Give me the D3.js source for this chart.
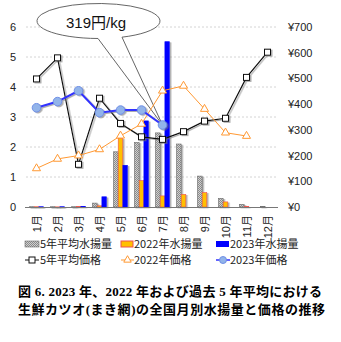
<!DOCTYPE html>
<html><head><meta charset="utf-8">
<script src="https://cdn.jsdelivr.net/npm/d3@7"></script>
<style>
html,body{margin:0;padding:0;background:#fff;}
svg{display:block;}
</style></head>
<body>
<svg id="c" width="341" height="342"></svg>
<script>
const months = ["1月","2月","3月","4月","5月","6月","7月","8月","9月","10月","11月","12月"];
const qtyAvg5 = [0.01,0.01,0.01,0.13,1.84,2.15,2.47,2.1,1.03,0.29,0.09,0.02];
const qty2022 = [0.01,0.005,0.02,0.04,2.29,0.88,0.37,0.42,0.48,0.17,0.02,0];
const qty2023 = [0.01,0.01,0.02,0.34,1.39,2.87,5.51,null,null,null,null,null];
const priceAvg5 = [498,580,166,423,325,273,263,293,334,345,504,602];
const price2022 = [150,187,200,224,277,323,452,471,381,289,276,null];
const price2023 = [386,410,452,367,377,377,319,null,null,null,null,null];
const leftTicks = [0,1,2,3,4,5,6];
const rightTicks = [0,100,200,300,400,500,600,700];
const legendLabels = ["5年平均水揚量","2022年水揚量","2023年水揚量","5年平均価格","2022年価格","2023年価格"];
const calloutText = "319円/kg";
const titleLines = ["図 6. 2023 年、2022 年および過去 5 年平均における","生鮮カツオ(まき網)の全国月別水揚量と価格の推移"];

const svg = d3.select("#c");
const font = "'Liberation Sans', Arial, 'Noto Sans CJK JP', sans-serif";
const jfont = "'Noto Sans CJK JP', sans-serif";

const x = d3.scaleBand().domain(months).range([26,278]).padding(0);
const yL = d3.scaleLinear().domain([0,6]).range([207,27]);
const yR = d3.scaleLinear().domain([0,700]).range([207,27]);

const defs = svg.append("defs");
const pat = defs.append("pattern").attr("id","chk").attr("width",2).attr("height",2).attr("patternUnits","userSpaceOnUse");
pat.append("rect").attr("width",2).attr("height",2).attr("fill","#d0d0d0");
pat.append("rect").attr("width",1).attr("height",1).attr("fill","#8a8a8a");
pat.append("rect").attr("x",1).attr("y",1).attr("width",1).attr("height",1).attr("fill","#8a8a8a");
const f = defs.append("filter").attr("id","sh").attr("x","-50%").attr("y","-50%").attr("width","200%").attr("height","200%");
f.append("feDropShadow").attr("dx",1.5).attr("dy",1).attr("stdDeviation",0.6).attr("flood-color","#777").attr("flood-opacity",0.6);

// grid
svg.append("g").selectAll("line").data(leftTicks.filter(d=>d>0)).join("line")
  .attr("x1",26).attr("x2",278).attr("y1",d=>yL(d)).attr("y2",d=>yL(d))
  .attr("stroke","#d4d4d4").attr("stroke-dasharray","2,2").attr("stroke-width",1);

// left axis labels
svg.append("g").selectAll("text").data(leftTicks).join("text")
  .attr("x",16).attr("y",d=>yL(d)+4).attr("text-anchor","end")
  .attr("font-family",font).attr("font-size",11).attr("fill","#222").text(d=>d);
// right axis labels
svg.append("g").selectAll("text").data(rightTicks).join("text")
  .attr("x",288).attr("y",d=>yR(d)+4).attr("text-anchor","start")
  .attr("font-family",font).attr("font-size",11).attr("fill","#222").text(d=>"¥"+d);

// callout ellipse
const cx=98.5, cy=21, rx=61.5, ry=17.5;
svg.append("ellipse").attr("cx",cx).attr("cy",cy).attr("rx",rx).attr("ry",ry).attr("fill","#fff");

// bars
const bw = 4.6;
const barG = svg.append("g");
const series = [
  {vals:qtyAvg5, off:-7, fill:"url(#chk)", stroke:"#6a6a6a"},
  {vals:qty2022, off:-2.3, fill:"#FFC000", stroke:"#F05050"},
  {vals:qty2023, off:2.4, fill:"#0000FF", stroke:"#0000FF"}
];
series.forEach(s=>{
  barG.append("g").attr("filter","url(#sh)").selectAll("rect")
    .data(months.map((m,i)=>({m,v:s.vals[i]})).filter(d=>d.v!=null && d.v>0))
    .join("rect")
    .attr("x",d=>x(d.m)+x.bandwidth()/2+s.off)
    .attr("y",d=>yL(d.v))
    .attr("width",bw)
    .attr("height",d=>Math.max(0.5,yL(0)-yL(d.v)))
    .attr("fill",s.fill).attr("stroke",s.stroke).attr("stroke-width",0.6);
});

// baseline
svg.append("line").attr("x1",25).attr("x2",278).attr("y1",207.5).attr("y2",207.5).attr("stroke","#777").attr("stroke-width",1);

// month labels
svg.append("g").selectAll("text").data(months).join("text")
  .attr("transform",d=>`translate(${x(d)+x.bandwidth()/2+4},215) rotate(-90)`)
  .attr("text-anchor","end").attr("font-family",font).attr("font-size",11).attr("fill","#222").text(d=>d);

// lines
const cxm = d=>x(d.m)+x.bandwidth()/2;
function lineSeries(vals){ return months.map((m,i)=>({m,v:vals[i]})).filter(d=>d.v!=null); }
const lineGen = d3.line().x(cxm).y(d=>yR(d.v));

// callout outline and tail
const tip = {x: x("7月")+x.bandwidth()/2, y: yR(price2023[6])};
const ax = 98, bx = 122;
const ay = cy + ry*Math.sqrt(1-((ax-cx)/rx)**2);
const by = cy + ry*Math.sqrt(1-((bx-cx)/rx)**2);
svg.append("path")
  .attr("d",`M${bx},${by} A${rx},${ry} 0 1 0 ${ax},${ay} L${tip.x},${tip.y} Z`)
  .attr("fill","none").attr("stroke","#555").attr("stroke-width",0.9);
svg.append("text").attr("x",96).attr("y",28).attr("text-anchor","middle")
  .attr("font-family",font).attr("font-size",15).attr("fill","#111").text(calloutText);

// 5yr avg price
const gA = svg.append("g").attr("filter","url(#sh)");
gA.append("path").datum(lineSeries(priceAvg5)).attr("d",lineGen).attr("fill","none").attr("stroke","#111").attr("stroke-width",1.2);
gA.selectAll("rect").data(lineSeries(priceAvg5)).join("rect")
  .attr("x",d=>cxm(d)-3).attr("y",d=>yR(d.v)-3).attr("width",6).attr("height",6)
  .attr("fill","#fff").attr("stroke","#111").attr("stroke-width",1);

// 2022 price
const g22 = svg.append("g");
g22.append("path").datum(lineSeries(price2022)).attr("d",lineGen).attr("fill","none").attr("stroke","#FF9933").attr("stroke-width",1);
g22.selectAll("path.m").data(lineSeries(price2022)).join("path").attr("class","m")
  .attr("d",d3.symbol(d3.symbolTriangle,28)())
  .attr("transform",d=>`translate(${cxm(d)},${yR(d.v)})`)
  .attr("fill","#fff").attr("stroke","#FF9933").attr("stroke-width",1);

// 2023 price
const g23 = svg.append("g").attr("filter","url(#sh)");
g23.append("path").datum(lineSeries(price2023)).attr("d",lineGen).attr("fill","none").attr("stroke","#3030FF").attr("stroke-width",2);
g23.selectAll("circle").data(lineSeries(price2023)).join("circle")
  .attr("cx",cxm).attr("cy",d=>yR(d.v)).attr("r",4.3)
  .attr("fill","#92B4EA").attr("stroke","#6F8FE6").attr("stroke-width",1);

// legend
const lg = svg.append("g");
const colX = [25,121,216];
const rowY = [244,260];
lg.append("rect").attr("x",colX[0]).attr("y",rowY[0]-3).attr("width",14).attr("height",6).attr("fill","url(#chk)").attr("stroke","#6a6a6a").attr("stroke-width",0.6);
lg.append("rect").attr("x",colX[1]).attr("y",rowY[0]-3).attr("width",12).attr("height",6).attr("fill","#FFC000").attr("stroke","#F05050").attr("stroke-width",1);
lg.append("rect").attr("x",colX[2]).attr("y",rowY[0]-3).attr("width",13).attr("height",6).attr("fill","#0000FF");
lg.append("line").attr("x1",colX[0]).attr("x2",colX[0]+14).attr("y1",rowY[1]).attr("y2",rowY[1]).attr("stroke","#111").attr("stroke-width",1);
lg.append("rect").attr("x",colX[0]+4).attr("y",rowY[1]-3).attr("width",6).attr("height",6).attr("fill","#fff").attr("stroke","#111");
lg.append("line").attr("x1",colX[1]).attr("x2",colX[1]+13).attr("y1",rowY[1]).attr("y2",rowY[1]).attr("stroke","#FF9933").attr("stroke-width",1);
lg.append("path").attr("d",d3.symbol(d3.symbolTriangle,24)()).attr("transform",`translate(${colX[1]+6.5},${rowY[1]})`).attr("fill","#fff").attr("stroke","#FF9933");
lg.append("line").attr("x1",colX[2]).attr("x2",colX[2]+14).attr("y1",rowY[1]).attr("y2",rowY[1]).attr("stroke","#3030FF").attr("stroke-width",1.5);
lg.append("circle").attr("cx",colX[2]+7).attr("cy",rowY[1]).attr("r",3.5).attr("fill","#92B4EA").attr("stroke","#6F8FE6");
const lgPos = [[40,rowY[0]],[134,rowY[0]],[230,rowY[0]],[40,rowY[1]],[134,rowY[1]],[230,rowY[1]]];
lg.selectAll("text").data(legendLabels).join("text")
  .attr("x",(d,i)=>lgPos[i][0]).attr("y",(d,i)=>lgPos[i][1]+4)
  .attr("font-family",jfont).attr("font-size",11).attr("fill","#222").text(d=>d);

// title
const titleW = [304,307];
svg.append("g").selectAll("text").data(titleLines).join("text")
  .attr("x",18).attr("y",(d,i)=>296+i*17.5)
  .attr("textLength",(d,i)=>titleW[i]).attr("lengthAdjust","spacing")
  .attr("font-family","'Liberation Serif','Noto Sans CJK JP',serif").attr("font-weight","bold")
  .attr("font-size",13).attr("fill","#000").text(d=>d);
</script>
</body></html>
